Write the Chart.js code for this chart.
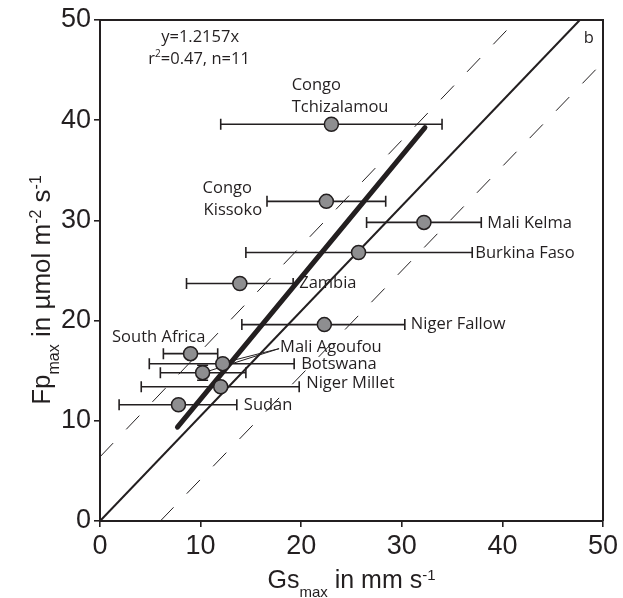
<!DOCTYPE html>
<html>
<head>
<meta charset="utf-8">
<script src="https://cdn.jsdelivr.net/npm/chart.js@4"></script>
<style>
  html, body { margin: 0; padding: 0; background: #fff; }
  #wrap { width: 623px; height: 598px; }
</style>
</head>
<body>
<div id="wrap"><canvas id="chart"></canvas></div>
<script>
// Sites, Gs max (x) with min/max range, Fp max (y)
const sites = ['Congo Tchizalamou', 'Congo Kissoko', 'Mali Kelma', 'Burkina Faso', 'Zambia',
  'Niger Fallow', 'South Africa', 'Mali Agoufou', 'Botswana', 'Niger Millet', 'Sudan'];
const gsMax  = [23.0, 22.5, 32.2, 25.7, 13.9, 22.3, 9.0, 12.2, 10.2, 12.0, 7.8];
const fpMax  = [39.6, 31.9, 29.8, 26.8, 23.7, 19.6, 16.7, 15.7, 14.8, 13.4, 11.6];
const gsLow  = [12.0, 16.6, 26.5, 14.5, 8.6, 14.1, 6.3, 4.9, 6.0, 4.1, 1.9];
const gsHigh = [34.0, 28.4, 37.9, 37.0, 19.2, 30.3, 11.7, 19.3, 14.5, 19.8, 13.6];
const fpErr  = [0, 0, 0, 0, 0, 0, 0, 0, 0.75, 0, 0];

// fit y = 1.2157x over the range of the data
const fitSlope = 1.2157;
const fitRange = [7.7, 32.3];

// reference line and its dashed envelope (end points in data units)
const refLine   = [[0, 0], [47.7, 50]];
const upperDash = [[0, 6.4], [41.4, 50]];
const lowerDash = [[6.0, 0], [50, 45.8]];

// leader lines from the "Mali Agoufou" label
const leaders = [
  [[17.8, 17.2], [12.7, 15.9]],
  [[17.8, 17.2], [10.6, 14.9]]
];

const axisTicks = [0, 10, 20, 30, 40, 50];

// text labels: [text, x, y] in data units (left edge, middle)
const siteLabels = [
  ['Congo', 19.05, 43.5], ['Tchizalamou', 19.05, 41.3],
  ['Congo', 10.2, 33.2], ['Kissoko', 10.3, 31.0],
  ['Mali Kelma', 38.5, 29.7],
  ['Burkina Faso', 37.3, 26.7],
  ['Zambia', 19.8, 23.75],
  ['Niger Fallow', 30.9, 19.66],
  ['South Africa', 1.2, 18.36],
  ['Mali Agoufou', 17.9, 17.37],
  ['Botswana', 20.0, 15.67],
  ['Niger Millet', 20.5, 13.77],
  ['Sudan', 14.3, 11.58]
];

const ink = '#231f20';
const labelFont = '16.5px "Open Sans", sans-serif';
const narrowFamily = '"Liberation Sans Narrow", "Liberation Sans", Arial, sans-serif';
const wideFamily = '"Liberation Sans", Arial, sans-serif';

function toPts(pairs) {
  return pairs.map(p => ({ x: p[0], y: p[1] }));
}

// horizontal error bars, drawn right under the markers
const errorBars = {
  id: 'errorBars',
  beforeDatasetDraw(chart, args) {
    if (args.index !== 0) return;
    const ctx = chart.ctx, xs = chart.scales.x, ys = chart.scales.y;
    ctx.save();
    ctx.strokeStyle = ink;
    ctx.lineWidth = 1.6;
    const cap = 5.5;
    for (let i = 0; i < gsMax.length; i++) {
      const yp = ys.getPixelForValue(fpMax[i]);
      const x0 = xs.getPixelForValue(gsLow[i]);
      const x1 = xs.getPixelForValue(gsHigh[i]);
      ctx.beginPath();
      ctx.moveTo(x0, yp); ctx.lineTo(x1, yp);
      ctx.moveTo(x0, yp - cap); ctx.lineTo(x0, yp + cap);
      ctx.moveTo(x1, yp - cap); ctx.lineTo(x1, yp + cap);
      ctx.stroke();
      if (fpErr[i] > 0) {
        const xp = xs.getPixelForValue(gsMax[i]);
        const y0 = ys.getPixelForValue(fpMax[i] - fpErr[i]);
        const y1 = ys.getPixelForValue(fpMax[i] + fpErr[i]);
        ctx.beginPath();
        ctx.moveTo(xp, y0); ctx.lineTo(xp, y1);
        ctx.moveTo(xp - cap, y0); ctx.lineTo(xp + cap, y0);
        ctx.moveTo(xp - cap, y1); ctx.lineTo(xp + cap, y1);
        ctx.stroke();
      }
    }
    ctx.restore();
  }
};

// text with sub/superscripts, centred on the origin
function drawRich(ctx, parts, size, family) {
  const small = Math.round(size * 0.6);
  let w = 0;
  parts.forEach(p => {
    ctx.font = (p[1] ? small : size) + 'px ' + family;
    w += ctx.measureText(p[0]).width;
  });
  let x = -w / 2;
  parts.forEach(p => {
    ctx.font = (p[1] ? small : size) + 'px ' + family;
    const dy = p[1] === 'sub' ? size * 0.35 : p[1] === 'sup' ? -size * 0.33 : 0;
    ctx.fillText(p[0], x, dy);
    x += ctx.measureText(p[0]).width;
  });
}

const annotations = {
  id: 'annotations',
  afterDraw(chart) {
    const ctx = chart.ctx, xs = chart.scales.x, ys = chart.scales.y, a = chart.chartArea;
    ctx.save();
    // frame: top and right
    ctx.strokeStyle = ink;
    ctx.lineWidth = 2;
    ctx.beginPath();
    ctx.moveTo(a.left, a.top); ctx.lineTo(a.right, a.top); ctx.lineTo(a.right, a.bottom);
    ctx.stroke();

    ctx.fillStyle = ink;
    ctx.font = labelFont;
    ctx.textAlign = 'left';
    ctx.textBaseline = 'middle';
    siteLabels.forEach(l => {
      ctx.fillText(l[0], xs.getPixelForValue(l[1]), ys.getPixelForValue(l[2]));
    });

    ctx.textAlign = 'center';
    ctx.fillText('b', xs.getPixelForValue(48.6), ys.getPixelForValue(48.2));
    ctx.fillText('y=1.2157x', xs.getPixelForValue(9.95), ys.getPixelForValue(48.3));
    // r² line
    ctx.textAlign = 'left';
    const r1 = 'r', r2 = '=0.47, n=11';
    const supFont = '10px "Open Sans", sans-serif';
    ctx.font = labelFont;
    const w1 = ctx.measureText(r1).width, w3 = ctx.measureText(r2).width;
    ctx.font = supFont;
    const w2 = ctx.measureText('2').width;
    const x = xs.getPixelForValue(9.85) - (w1 + w2 + w3) / 2;
    const y = ys.getPixelForValue(46.1);
    ctx.font = labelFont;
    ctx.fillText(r1, x, y);
    ctx.font = supFont;
    ctx.fillText('2', x + w1, y - 5);
    ctx.font = labelFont;
    ctx.fillText(r2, x + w1 + w2, y);

    // axis titles
    ctx.textAlign = 'left';
    ctx.textBaseline = 'alphabetic';
    ctx.save();
    ctx.translate((a.left + a.right) / 2, 588);
    drawRich(ctx, [['Gs'], ['max', 'sub'], [' in mm s'], ['-1', 'sup']], 25, narrowFamily);
    ctx.restore();
    ctx.save();
    ctx.translate(50, 290);
    ctx.rotate(-Math.PI / 2);
    drawRich(ctx, [['Fp'], ['max', 'sub'], [' in µmol m'], ['-2', 'sup'], [' s'], ['-1', 'sup']], 26, wideFamily);
    ctx.restore();
    ctx.restore();
  }
};

const axisCommon = {
  type: 'linear',
  min: 0,
  max: 50,
  afterBuildTicks(scale) { scale.ticks = axisTicks.map(v => ({ value: v })); },
  grid: { display: true, drawOnChartArea: false, drawTicks: true, tickLength: 6, color: ink, lineWidth: 1.6 },
  border: { display: true, color: ink, width: 2 },
  ticks: { color: ink, font: { family: narrowFamily, size: 27 }, padding: 3 }
};

new Chart(document.getElementById('chart'), {
  type: 'scatter',
  data: {
    datasets: [
      {
        label: 'sites',
        data: gsMax.map((g, i) => ({ x: g, y: fpMax[i] })),
        pointRadius: 7,
        pointBackgroundColor: '#8e8e90',
        pointBorderColor: ink,
        pointBorderWidth: 1.5,
        order: 0
      },
      {
        label: 'fit',
        data: fitRange.map(v => ({ x: v, y: v * fitSlope })),
        showLine: true, pointRadius: 0,
        borderColor: ink, borderWidth: 5, borderCapStyle: 'round',
        order: 1
      },
      {
        label: 'ref',
        data: toPts(refLine),
        showLine: true, pointRadius: 0,
        borderColor: ink, borderWidth: 2,
        order: 2
      },
      {
        label: 'upper',
        data: toPts(upperDash),
        showLine: true, pointRadius: 0,
        borderColor: ink, borderWidth: 1, borderDash: [19, 19],
        order: 3
      },
      {
        label: 'lower',
        data: toPts(lowerDash),
        showLine: true, pointRadius: 0,
        borderColor: ink, borderWidth: 1, borderDash: [19, 19],
        order: 3
      },
      ...leaders.map(l => ({
        label: 'leader',
        data: toPts(l),
        showLine: true, pointRadius: 0,
        borderColor: ink, borderWidth: 1,
        order: 4
      }))
    ]
  },
  options: {
    responsive: true,
    maintainAspectRatio: false,
    animation: false,
    clip: false,
    layout: { padding: { top: 20, right: 20, left: 0, bottom: 0 } },
    plugins: { legend: { display: false }, tooltip: { enabled: false } },
    scales: {
      x: Object.assign({}, axisCommon, { afterFit(scale) { scale.height = 77; } }),
      y: Object.assign({}, axisCommon, { afterFit(scale) { scale.width = 100; } })
    }
  },
  plugins: [errorBars, annotations]
});
</script>
</body>
</html>
